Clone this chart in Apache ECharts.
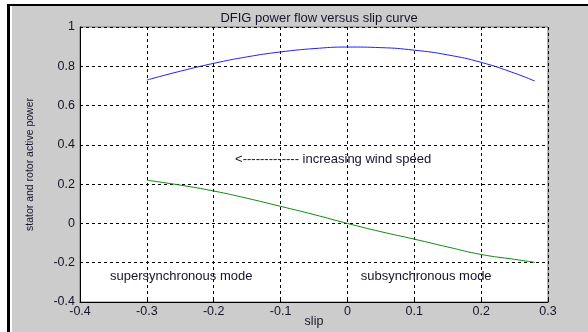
<!DOCTYPE html>
<html>
<head>
<meta charset="utf-8">
<script src="https://cdn.jsdelivr.net/npm/echarts@6/dist/echarts.min.js"></script>
<style>
  html, body { margin: 0; padding: 0; background: #fff; }
  #frame {
    position: absolute; left: 7px; top: 4px; right: 0; bottom: 0;
    background: #cccccc;
    border-left: 3px solid #000;
    border-top: 2px solid #000;
    box-shadow: inset 2px 0 0 #fff;
  }
  #chart { position: absolute; left: 0; top: 0; width: 588px; height: 332px; }
</style>
</head>
<body>
<div id="frame"></div>
<div id="chart"></div>
<script>
// slip values (x)
var slip = [-0.3, -0.25, -0.2, -0.15, -0.1, -0.05, 0, 0.05, 0.1, 0.15, 0.2, 0.25, 0.28]
// stator active power (blue)
var statorPower = [0.73, 0.775, 0.815, 0.848, 0.873, 0.89, 0.898, 0.895, 0.882, 0.858, 0.82, 0.765, 0.725]
// rotor active power (green)
var rotorPower = [0.22, 0.195, 0.165, 0.128, 0.087, 0.045, 0, -0.042, -0.08, -0.12, -0.158, -0.183, -0.198]

// text notes, placed in data coords
var notes = [
  {name: '<------------- increasing wind speed', coord: [-0.168, 0.328]},
  {name: 'supersynchronous mode', coord: [-0.355, -0.268]},
  {name: 'subsynchronous mode', coord: [0.02, -0.268]}
]

var font = 'Liberation Sans, Arial, sans-serif'
var txt = '#15152a'

function pairs (xs, ys) {
  return xs.map(function (x, i) { return [x, ys[i]] })
}

var chart = echarts.init(document.getElementById('chart'))

var opt = {
  backgroundColor: 'transparent',
  animation: false,
  title: [
    {
      text: 'DFIG power flow versus slip curve',
      left: 314, top: 7, textAlign: 'center',
      textStyle: {fontFamily: font, fontSize: 13, fontWeight: 'normal', color: txt}
    },
    {
      // x axis name
      text: 'slip', left: 314, top: 315, textAlign: 'center', padding: 0,
      textStyle: {fontFamily: font, fontSize: 12.5, fontWeight: 'normal', color: txt}
    }
  ],
  grid: {
    left: 80, right: 40, top: 27, bottom: 30,
    outerBoundsMode: 'none', containLabel: false,
    show: true, backgroundColor: '#fff', borderColor: '#777', borderWidth: 1
  },
  xAxis: {
    type: 'value', min: -0.4, max: 0.3, interval: 0.1,
    axisLine: {show: true, onZero: false, lineStyle: {color: '#000', width: 1}},
    axisTick: {show: true, inside: true, length: 3, lineStyle: {color: '#000'}},
    axisLabel: {margin: 3, fontFamily: font, fontSize: 12.5, color: txt},
    splitLine: {show: true, lineStyle: {color: '#000', type: [3, 3], width: 1}}
  },
  yAxis: {
    type: 'value', min: -0.4, max: 1, interval: 0.2,
    name: 'stator and rotor active power', nameLocation: 'middle', nameGap: 44,
    nameTextStyle: {fontFamily: font, fontSize: 10.5, color: txt},
    axisLine: {show: true, onZero: false, lineStyle: {color: '#000', width: 1}},
    axisTick: {show: true, inside: true, length: 3, lineStyle: {color: '#000'}},
    axisLabel: {margin: 5, fontFamily: font, fontSize: 12.5, color: txt},
    splitLine: {show: true, lineStyle: {color: '#000', type: [3, 3], width: 1}}
  },
  series: [
    {
      name: 'stator', type: 'line', smooth: true, showSymbol: false,
      data: pairs(slip, statorPower),
      lineStyle: {color: '#2020ff', width: 1}
    },
    {
      name: 'rotor', type: 'line', smooth: true, showSymbol: false,
      data: pairs(slip, rotorPower),
      lineStyle: {color: '#108a10', width: 1},
      markPoint: {
        symbol: 'circle', symbolSize: 0,
        label: {
          show: true, position: 'right', distance: 0,
          formatter: '{b}', fontFamily: font, fontSize: 13, color: txt
        },
        data: notes
      }
    }
  ]
}

chart.setOption(opt)
</script>
</body>
</html>
